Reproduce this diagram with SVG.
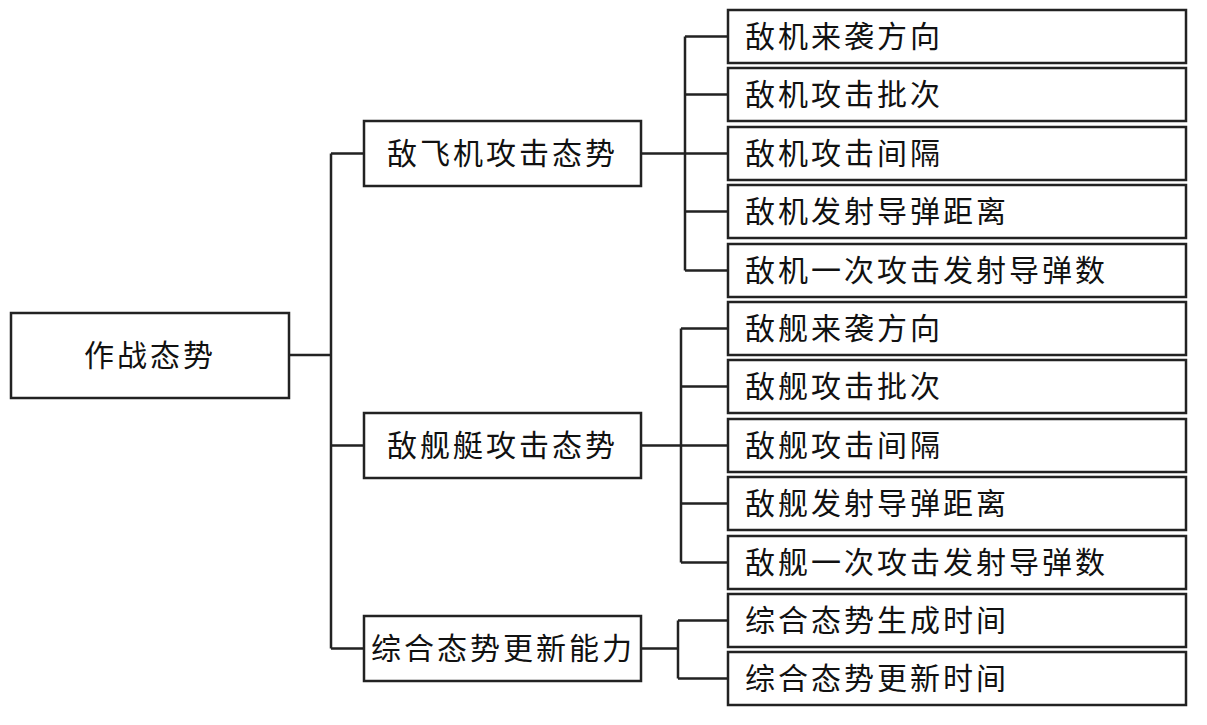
<svg xmlns="http://www.w3.org/2000/svg" width="1207" height="725" viewBox="0 0 1207 725">
<style>
.box{fill:#fff;stroke:#222;stroke-width:2.5}
.ln{fill:none;stroke:#222;stroke-width:2.5}
text{font-family:"Noto Sans CJK SC","Noto Sans CJK JP",sans-serif;font-size:30px;letter-spacing:3px;fill:#111}
</style>
<rect width="1207" height="725" fill="#fff"/>
<g id="connectors">
<path class="ln" d="M289 355H331M331 153.5V648.5M331 153.5H364M331 445.5H364M331 648.5H364"/>
<path class="ln" d="M641 153.5H685M685 36.5V270.5M685 36.5H728M685 94.5H728M685 153.5H728M685 211.5H728M685 270.5H728"/>
<path class="ln" d="M641 445.5H681M681 328.5V562.5M681 328.5H728M681 386.5H728M681 445.5H728M681 503.5H728M681 562.5H728"/>
<path class="ln" d="M641 648.5H678M678 620.5V678.5M678 620.5H728M678 678.5H728"/>
</g>
<g id="root"><rect class="box" x="11" y="313" width="278" height="85"/><text x="84" y="365.5">作战态势</text></g>
<g id="n1"><rect class="box" x="364" y="121" width="277" height="65"/><text x="387" y="164">敌飞机攻击态势</text></g>
<g id="n2"><rect class="box" x="364" y="413" width="277" height="65"/><text x="387" y="456">敌舰艇攻击态势</text></g>
<g id="n3"><rect class="box" x="364" y="616" width="277" height="65"/><text x="371" y="659">综合态势更新能力</text></g>
<g id="c1"><rect class="box" x="728" y="10" width="458" height="53"/><text x="745" y="47">敌机来袭方向</text></g>
<g id="c2"><rect class="box" x="728" y="68" width="458" height="53"/><text x="745" y="105">敌机攻击批次</text></g>
<g id="c3"><rect class="box" x="728" y="127" width="458" height="53"/><text x="745" y="164">敌机攻击间隔</text></g>
<g id="c4"><rect class="box" x="728" y="185" width="458" height="53"/><text x="745" y="222">敌机发射导弹距离</text></g>
<g id="c5"><rect class="box" x="728" y="244" width="458" height="53"/><text x="745" y="281">敌机一次攻击发射导弹数</text></g>
<g id="c6"><rect class="box" x="728" y="302" width="458" height="53"/><text x="745" y="339">敌舰来袭方向</text></g>
<g id="c7"><rect class="box" x="728" y="360" width="458" height="53"/><text x="745" y="397">敌舰攻击批次</text></g>
<g id="c8"><rect class="box" x="728" y="419" width="458" height="53"/><text x="745" y="456">敌舰攻击间隔</text></g>
<g id="c9"><rect class="box" x="728" y="477" width="458" height="53"/><text x="745" y="514">敌舰发射导弹距离</text></g>
<g id="c10"><rect class="box" x="728" y="536" width="458" height="53"/><text x="745" y="573">敌舰一次攻击发射导弹数</text></g>
<g id="c11"><rect class="box" x="728" y="594" width="458" height="53"/><text x="745" y="631">综合态势生成时间</text></g>
<g id="c12"><rect class="box" x="728" y="652" width="458" height="53"/><text x="745" y="689">综合态势更新时间</text></g>
</svg>
